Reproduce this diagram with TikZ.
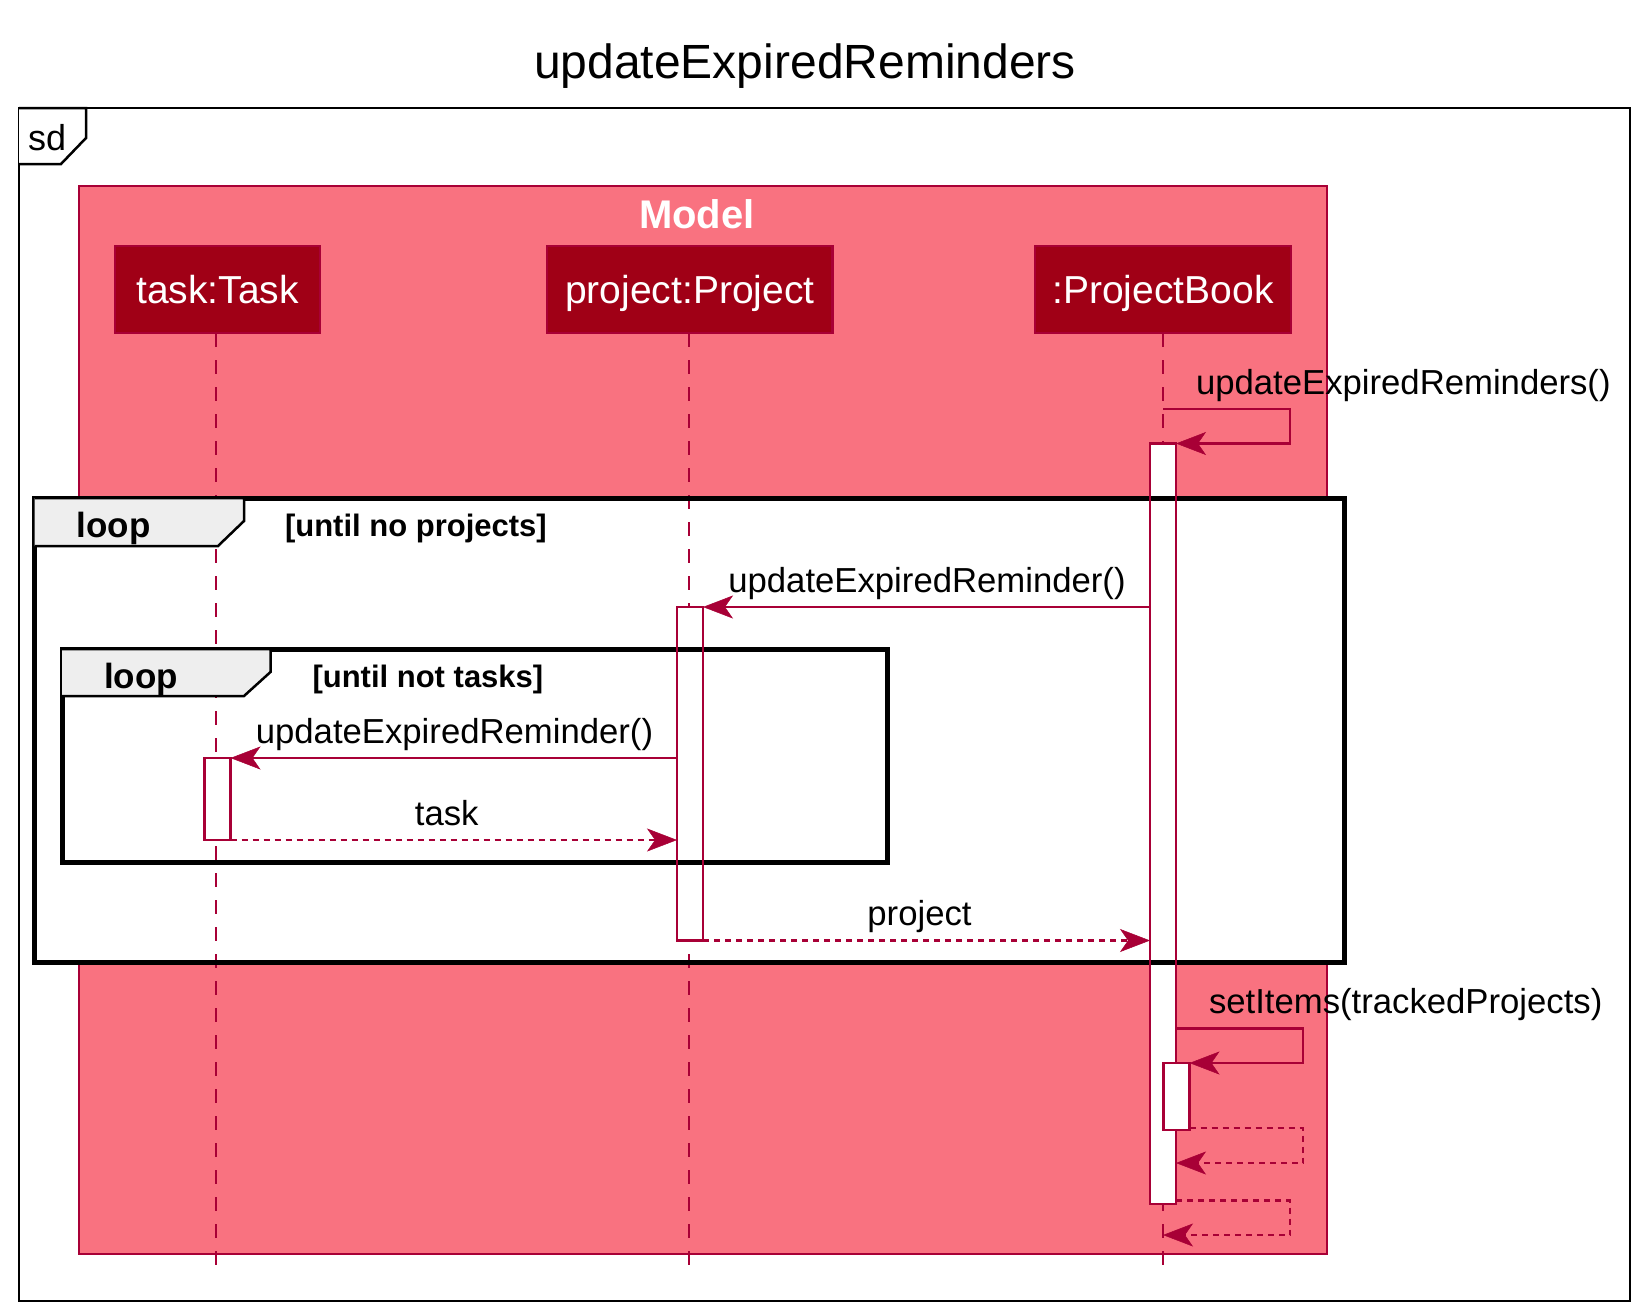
\documentclass[tikz,border=0pt]{standalone}
\usepackage{fontspec}
\setmainfont{Liberation Sans}
\usetikzlibrary{arrows.meta,calc}
\definecolor{modelfill}{RGB}{249,114,128}
\definecolor{partfill}{RGB}{160,0,22}
\definecolor{umlred}{RGB}{168,0,54}
\definecolor{tabfill}{RGB}{238,238,238}
\begin{document}
\begin{tikzpicture}[x=1pt,y=-1pt,
  every node/.style={inner sep=0pt, outer sep=0pt},
  part/.style={draw=umlred, line width=2.5pt, fill=partfill, text=white,
    font=\fontsize{39}{41}\selectfont, minimum height=87pt, text height=34pt, text depth=7pt},
  lifeline/.style={draw=umlred, line width=2.5pt, dash pattern=on 13.5pt off 13.5pt},
  actfill/.style={fill=white, minimum width=26pt},
  actline/.style={draw=umlred, line width=2.2pt, minimum width=26pt},
  msg/.style={draw=umlred, line width=2.4pt, -{Stealth[length=30pt,width=23pt,inset=8pt,line width=0.5pt]}},
  ret/.style={msg, dash pattern=on 6pt off 5pt},
  lbl/.style={font=\fontsize{34.7}{37}\selectfont, anchor=base},
  looplbl/.style={font=\fontsize{35}{36}\bfseries\selectfont, anchor=base west},
  guardlbl/.style={font=\fontsize{31}{33}\bfseries\selectfont, anchor=base west},
  loopframe/.style={draw=black, line width=5pt},
  tabstyle/.style={draw=black, line width=2.5pt, fill=tabfill, line join=miter}
]
\useasboundingbox (0,0) rectangle (1644,1309);

% title
\node[font=\fontsize{48}{50}\selectfont, anchor=base] (title) at (805,78) {updateExpiredReminders};

% sd frame
\node[draw=black, line width=2.5pt, minimum width=1611pt, minimum height=1193pt] (sdframe) at (824.5,704.5) {};
\draw[line width=2.5pt, fill=white] (19,108) -- (86,108) -- (86,138) -- (61,164) -- (19,164);
\node[font=\fontsize{36}{38}\selectfont, anchor=base west] (sdlbl) at (28,150) {sd};

% Model box
\node[draw=umlred, fill=modelfill, line width=2pt, minimum width=1248.4pt, minimum height=1068.4pt] (model) at (702.8,719.8) {};
\node[font=\fontsize{40}{42}\bfseries\selectfont, text=white, anchor=base] (modellbl) at (697,228) {Model};

% participants
\node[part, minimum width=205pt] (task) at (217.5,289.5) {task:Task};
\node[part, minimum width=285.5pt] (project) at (689.75,289.5) {project:Project};
\node[part, minimum width=256pt] (pb) at (1163,289.5) {:ProjectBook};

% loop fills
\node[fill=white, minimum width=1309.4pt, minimum height=464.5pt] (outerloopfill) at (689.3,730.25) {};
\node[fill=white, minimum width=825pt, minimum height=213pt] (innerloopfill) at (474.5,755.5) {};

% lifelines
\coordinate (taskend) at (216,1266);
\coordinate (projend) at (689,1266);
\coordinate (pbend) at (1163,1266);
\draw[lifeline] (task.south -| taskend) -- (taskend);
\draw[lifeline] (project.south -| projend) -- (projend);
\draw[lifeline] (pb.south -| pbend) -- (pbend);

% activation fills
\node[actfill, minimum height=760.5pt, anchor=north] (aPBf) at (1163,443.5) {};
\node[actfill, minimum height=333.5pt, anchor=north] (aPf) at (690,607) {};
\node[actfill, minimum height=82pt, anchor=north] (aTf) at (217.5,758) {};
\node[actfill, minimum height=67pt, anchor=north] (aNf) at (1176.5,1063) {};

% loop frames
\node[loopframe, minimum width=1309.4pt, minimum height=464.5pt] (outerloop) at (689.3,730.25) {};
\draw[tabstyle] (34.6,498) -- (244,498) -- (244,521) -- (218,546) -- (34.6,546);
\node[looplbl] (outerlooplbl) at (76.5,537) {loop};
\node[guardlbl] (outerguard) at (285,536) {[until no projects]};

\node[loopframe, minimum width=825pt, minimum height=213pt] (innerloop) at (474.5,755.5) {};
\draw[tabstyle] (62,649) -- (270.5,649) -- (270.5,672) -- (244,696) -- (62,696);
\node[looplbl] (innerlooplbl) at (104,688) {loop};
\node[guardlbl] (innerguard) at (312.5,687) {[until not tasks]};

% activation outlines
\node[actline, minimum height=760.5pt, anchor=north] (aPB) at (1163,443.5) {};
\node[actline, minimum height=333.5pt, anchor=north] (aP) at (690,607) {};
\node[actline, minimum height=82pt, anchor=north] (aT) at (217.5,758) {};
\node[actline, fill=white, minimum height=67pt, anchor=north] (aN) at (1176.5,1063) {};

% self message 1
\coordinate (s1a) at (1163,409);
\coordinate (s1b) at (1290,409);
\coordinate (s1c) at (1290,443.5);
\draw[msg] (s1a) -- (s1b) -- (s1c) -- (aPB.north east);
\node[lbl, anchor=base west] (s1lbl) at (1196,394) {updateExpiredReminders()};

% outer message
\draw[msg] (aPB.west |- aP.north) -- (aP.north east);
\node[lbl] (m1lbl) at (927,592) {updateExpiredReminder()};

% inner message
\draw[msg] (aP.west |- aT.north) -- (aT.north east);
\node[lbl] (m2lbl) at (454.5,743) {updateExpiredReminder()};

% task return
\draw[ret] (aT.south east) -- (aP.west |- aT.south);
\node[lbl] (r1lbl) at (446.7,825) {task};

% project return
\draw[ret] (aP.south east) -- (aPB.west |- aP.south);
\node[lbl] (r2lbl) at (919.5,925.5) {project};

% self message 2
\coordinate (s2a) at (1176,1028.6);
\coordinate (s2b) at (1303,1028.6);
\coordinate (s2c) at (1303,1063);
\draw[msg] (s2a) -- (s2b) -- (s2c) -- (aN.north east);
\node[lbl, anchor=base west] (s2lbl) at (1209,1013.6) {setItems(trackedProjects)};

% return from nested activation
\coordinate (r3a) at (1303,1128);
\coordinate (r3b) at (1303,1163);
\coordinate (r3c) at (1176,1163);
\draw[ret] (aN.east |- r3a) -- (r3a) -- (r3b) -- (r3c);

% final return
\coordinate (r4a) at (1290,1200.5);
\coordinate (r4b) at (1290,1235);
\coordinate (r4c) at (1163,1235);
\draw[ret] (aPB.east |- r4a) -- (r4a) -- (r4b) -- (r4c);
\end{tikzpicture}
\end{document}
